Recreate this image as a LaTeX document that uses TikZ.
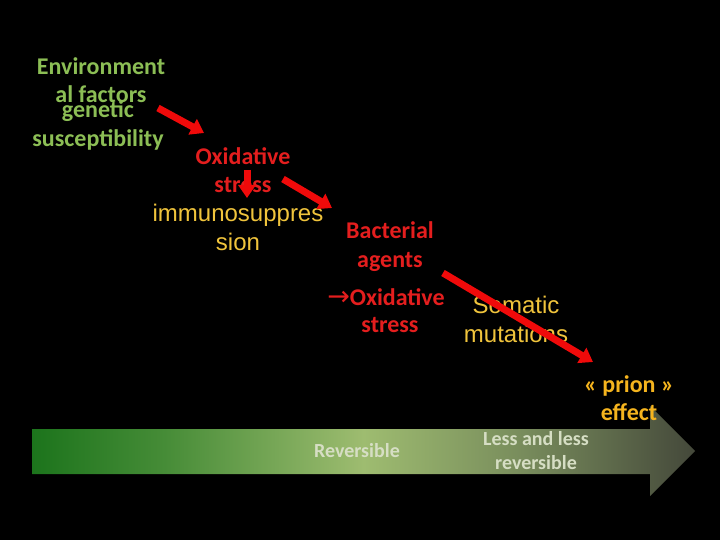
\documentclass[tikz,border=0pt]{standalone}
\usepackage{fontspec}
\setmainfont{Carlito}
\newfontfamily\arialf{Liberation Sans}
\newfontfamily\arrowf{DejaVu Sans}
\usetikzlibrary{arrows.meta}
\definecolor{txtgreen}{RGB}{140,190,85}
\definecolor{txtred}{RGB}{228,30,30}
\definecolor{txtyellow}{RGB}{240,196,60}
\definecolor{txtorange}{RGB}{245,180,30}
\definecolor{txtpale}{RGB}{214,222,196}
\definecolor{arrred}{RGB}{240,10,10}
\definecolor{gA}{RGB}{28,116,28}
\definecolor{gB}{RGB}{70,140,55}
\definecolor{gC}{RGB}{158,188,112}
\definecolor{gD}{RGB}{120,140,92}
\definecolor{gE}{RGB}{68,72,58}
\pgfdeclarehorizontalshading{bigarrow}{100bp}{color(0bp)=(gA); color(25bp)=(gA); color(35bp)=(gB); color(50bp)=(gC); color(62bp)=(gD); color(75bp)=(gE); color(100bp)=(gE)}
\begin{document}
\begin{tikzpicture}[x=1pt,y=-1pt,
  lbl/.style={anchor=base,inner sep=0pt,font=\bfseries\fontsize{24}{28}\selectfont},
  albl/.style={anchor=base,inner sep=0pt,font=\arialf\fontsize{24}{28}\selectfont,text=txtyellow},
  small/.style={anchor=base,inner sep=0pt,font=\bfseries\fontsize{20}{24}\selectfont,text=txtpale},
  redarrow/.style={draw=arrred,line width=7pt,-{Triangle[length=13pt,width=17pt]}}]
\fill[black] (0,0) rectangle (720,540);
\useasboundingbox (0,0) rectangle (720,540);
% big gradient arrow
\shade[shading=bigarrow] (32,429) -- (650,429) -- (650,406) -- (695,451) -- (650,496) -- (650,474) -- (32,474) -- cycle;
% texts
\node[lbl,text=txtgreen] (env1) at (101,75) {Environment};
\node[lbl,text=txtgreen] (env2) at (101,103) {al factors};
\node[lbl,text=txtgreen] (gen1) at (98,118) {genetic};
\node[lbl,text=txtgreen] (gen2) at (98,147) {susceptibility};
\node[lbl,text=txtred] (ox1) at (243,165) {Oxidative};
\node[lbl,text=txtred] (ox2) at (243,193) {stress};
\node[albl] (im1) at (238,222) {immunosuppres};
\node[albl] (im2) at (238,250) {sion};
\node[lbl,text=txtred] (bac1) at (390,239) {Bacterial};
\node[lbl,text=txtred] (bac2) at (390,267) {agents};
\node[lbl,text=txtred] (box1) at (386,305) {{\arrowf\mdseries\fontsize{27}{28}\selectfont →}Oxidative};
\node[lbl,text=txtred] (box2) at (390,332) {stress};
\node[albl] (som1) at (516,313) {Somatic};
\node[albl] (som2) at (516,342) {mutations};
\node[lbl,text=txtorange] (pr1) at (629,392) {« prion »};
\node[lbl,text=txtorange] (pr2) at (629,420) {effect};
\node[small] (rev) at (357,457) {Reversible};
\node[small] (less1) at (536,445) {Less and less};
\node[small] (less2) at (536,469) {reversible};
% red arrows
\coordinate (a1s) at (158,108);
\coordinate (a1e) at (204,133);
\coordinate (a2s) at (247,170);
\coordinate (a2e) at (247,198);
\coordinate (a3s) at (283,179);
\coordinate (a3e) at (332,208);
\coordinate (a4s) at (443,273);
\coordinate (a4e) at (593,362);
\draw[redarrow] (a1s) -- (a1e);
\draw[redarrow] (a2s) -- (a2e);
\draw[redarrow] (a3s) -- (a3e);
\draw[redarrow] (a4s) -- (a4e);
\end{tikzpicture}
\end{document}
